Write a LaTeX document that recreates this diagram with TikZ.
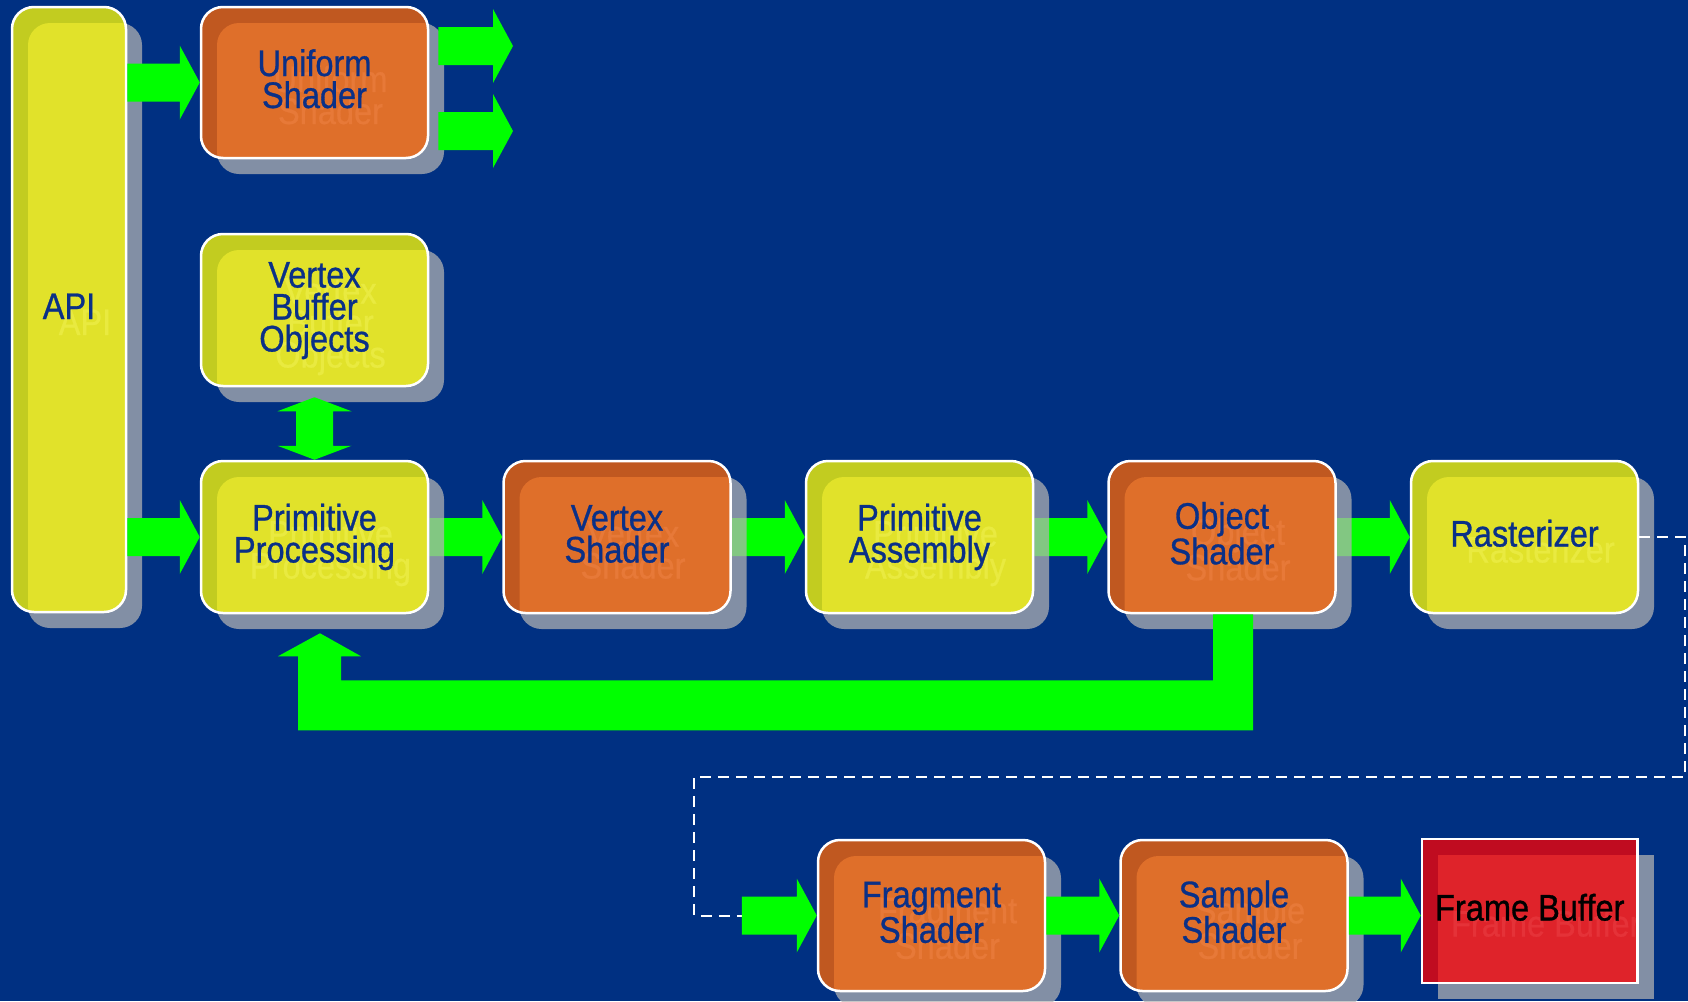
\documentclass[tikz,border=0pt]{standalone}
\usepackage{fontspec}
\usetikzlibrary{calc,shadows}
\newfontfamily\boxfont{Liberation Sans}[FakeStretch=0.88,FakeBold=0.8]
\newcommand\panelfont{\boxfont\fontsize{37}{32}\selectfont}
\newcommand\topstrut{\rule{0pt}{27pt}}
\newcommand\botstrut{\rule[-8pt]{0pt}{8pt}}

\definecolor{bgc}{RGB}{0,48,130}
\definecolor{labelc}{RGB}{10,48,135}
\definecolor{flowgreen}{RGB}{0,255,0}
\definecolor{shadowc}{RGB}{179,179,179}
\definecolor{yband}{RGB}{194,204,32}
\definecolor{yfill}{RGB}{225,226,42}
\definecolor{yghost}{RGB}{233,234,64}
\definecolor{oband}{RGB}{192,88,32}
\definecolor{ofill}{RGB}{223,111,42}
\definecolor{oghost}{RGB}{231,121,56}
\definecolor{rband}{RGB}{192,12,32}
\definecolor{rfill}{RGB}{223,35,42}
\definecolor{rghost}{RGB}{229,50,56}

\pgfdeclarelayer{background}
\pgfsetlayers{background,main}

\tikzset{
  flow/.style={fill=flowgreen},
  dashline/.style={draw=white, line width=2pt, dash pattern=on 11pt off 7pt},
  panelbase/.style n args={5}{
    draw=white, line width=2.5pt, fill=#1, inner sep=0pt, align=center,
    font=\panelfont, text=labelc,
    drop shadow={shadow xshift=16pt, shadow yshift=-16pt, fill=shadowc, opacity=0.73},
    path picture={
      \fill[#2, rounded corners=#4]
        ([shift={(16pt,-16pt)}]path picture bounding box.north west) rectangle
        ([shift={(16pt,-16pt)}]path picture bounding box.south east);
      \node[inner sep=0pt, align=center, font=\panelfont, text=#3]
        at ([shift={(16pt,-16pt)}]path picture bounding box.center) {\topstrut #5\botstrut};
    }},
  panel/.style n args={4}{rounded corners=22pt, panelbase={#1}{#2}{#3}{22pt}{#4}},
  flatpanel/.style n args={4}{sharp corners, panelbase={#1}{#2}{#3}{0.01pt}{#4}},
  ypanel/.style={panel={yband}{yfill}{yghost}{#1}},
  opanel/.style={panel={oband}{ofill}{oghost}{#1}},
  stage/.style={minimum width=227pt, minimum height=152pt},
}

% wide green arrow: shaft from #1 to the head whose tip is #2
\newcommand\flowarrow[2]{%
  \fill[flow] ($(#1)+(0,-19)$) -- ($(#2)+(-20,-19)$) -- ($(#2)+(-20,-37)$) -- (#2)
    -- ($(#2)+(-20,37)$) -- ($(#2)+(-20,19)$) -- ($(#1)+(0,19)$) -- cycle;}

\begin{document}
\begin{tikzpicture}[x=1pt,y=-1pt]
\useasboundingbox (0,0) rectangle (1688,1001);
\begin{pgfonlayer}{background}
  \fill[bgc] (0,0) rectangle (1688,1001);
\end{pgfonlayer}

% pipeline stages
\node[ypanel={API}, minimum width=114pt, minimum height=605pt] (api) at (69,309.5) {\topstrut API\botstrut};
\node[opanel={Uniform\\Shader}, stage, minimum height=151pt] (uni) at (314.5,82.5) {\topstrut Uniform\\Shader\botstrut};
\node[ypanel={Vertex\\Buffer\\Objects}, stage] (vbo) at (314.5,310) {\topstrut Vertex\\Buffer\\Objects\botstrut};
\node[ypanel={Primitive\\Processing}, stage] (pp) at (314.5,537) {\topstrut Primitive\\Processing\botstrut};
\node[opanel={Vertex\\Shader}, stage] (vs) at (617,537) {\topstrut Vertex\\Shader\botstrut};
\node[ypanel={Primitive\\Assembly}, stage] (pa) at (919.5,537) {\topstrut Primitive\\Assembly\botstrut};
\node[opanel={Object\\Shader}, stage] (os) at (1222,537) {\topstrut Object\\Shader\botstrut};
\node[ypanel={Rasterizer}, stage] (rast) at (1524.5,537) {\topstrut Rasterizer\botstrut};
\node[opanel={Fragment\\Shader}, stage, minimum height=151pt] (frag) at (931.5,915.5) {\topstrut Fragment\\Shader\botstrut};
\node[opanel={Sample\\Shader}, stage, minimum height=151pt] (samp) at (1234,915.5) {\topstrut Sample\\Shader\botstrut};
\node[flatpanel={rband}{rfill}{rghost}{Frame Buffer}, minimum width=215.5pt, minimum height=144pt, text=black]
  (fb) at (1529.75,911) {\topstrut Frame Buffer\botstrut};

% main row flow, passing under the drop shadows
\begin{pgfonlayer}{background}
  \flowarrow{pp.east}{vs.west}
  \flowarrow{vs.east}{pa.west}
  \flowarrow{pa.east}{os.west}
  \flowarrow{os.east}{rast.west}
\end{pgfonlayer}

% API feeds
\flowarrow{api.east|-uni.west}{uni.west}
\flowarrow{api.east|-pp.west}{pp.west}

% uniform shader outputs
\coordinate (uo1) at (513,46);
\coordinate (uo2) at (513,131);
\coordinate (uo1s) at ($(uni.east|-uo1)+(9,0)$);
\coordinate (uo2s) at ($(uni.east|-uo2)+(9,0)$);
\flowarrow{uo1s}{uo1}
\flowarrow{uo2s}{uo2}

% vertex buffer objects <-> primitive processing
\fill[flow] ($(vbo.south)+(0,10)$) -- ($(vbo.south)+(37,24)$) -- ($(vbo.south)+(18.5,24)$)
  -- ($(pp.north)+(18.5,-14)$) -- ($(pp.north)+(37,-14)$) -- (pp.north)
  -- ($(pp.north)+(-37,-14)$) -- ($(pp.north)+(-18.5,-14)$)
  -- ($(vbo.south)+(-18.5,24)$) -- ($(vbo.south)+(-37,24)$) -- cycle;

% object shader feedback to primitive processing
\fill[flow] ($(os.south)+(-9,0)$) -- ($(os.south)+(31,0)$) -- ($(os.south)+(31,116)$)
  -- ($(pp.south)+(-16.5,116)$) -- ($(pp.south)+(-16.5,42)$) -- ($(pp.south)+(-36.5,42)$)
  -- ($(pp.south)+(5.5,19)$) -- ($(pp.south)+(46.5,42)$) -- ($(pp.south)+(26.5,42)$)
  -- ($(pp.south)+(26.5,66)$) -- ($(os.south)+(-9,66)$) -- cycle;

% rasterizer output routed down to the fragment stage
\coordinate (loopr) at (1685,777);
\coordinate (loopl) at (694,777);
\coordinate (fragin) at ($(frag.west)+(-75,0)$);
\draw[dashline] (rast.east) -| (loopr) -- (loopl) |- (fragin);

% fragment row
\flowarrow{fragin}{frag.west}
\flowarrow{frag.east}{samp.west}
\flowarrow{samp.east}{fb.west|-samp.east}
\end{tikzpicture}
\end{document}
